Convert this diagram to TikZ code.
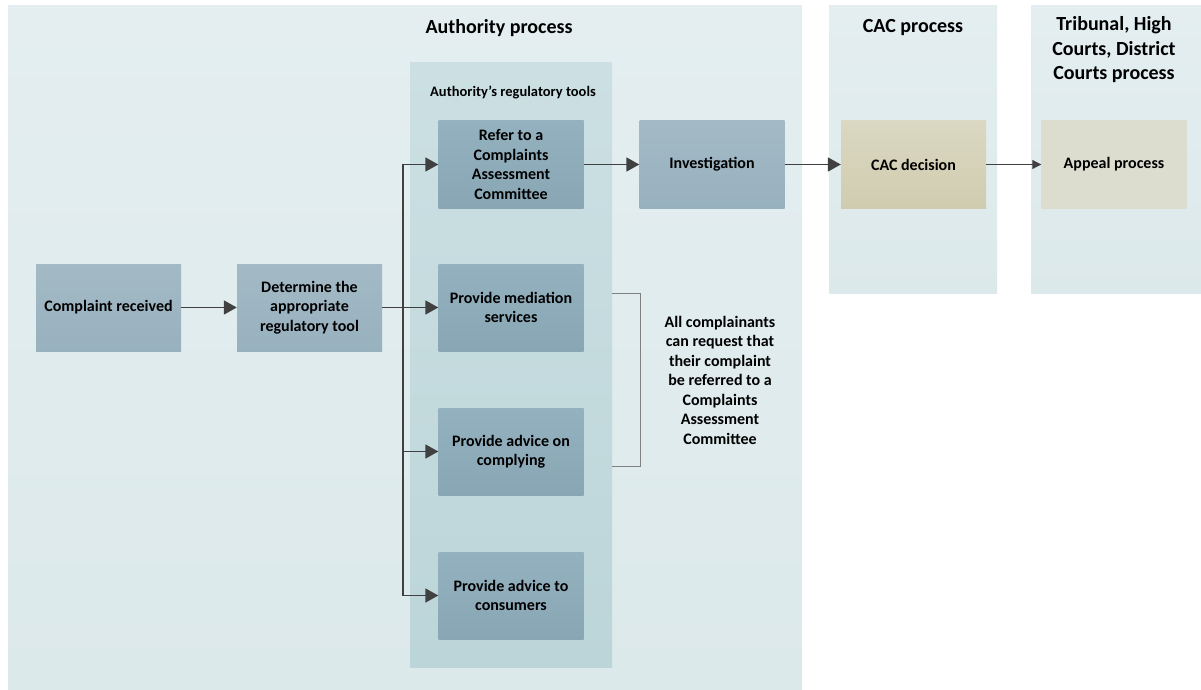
\documentclass[tikz,border=0pt]{standalone}
\usepackage{fontspec}
\setmainfont{Carlito}
\usetikzlibrary{arrows.meta, positioning}

\definecolor{panelTop}{HTML}{E4EEF0}
\definecolor{panelBot}{HTML}{DCE9EB}
\definecolor{toolsTop}{HTML}{CCE0E3}
\definecolor{toolsBot}{HTML}{BCD5D9}
\definecolor{boxTop}{HTML}{A3BAC6}
\definecolor{boxBot}{HTML}{98B1BE}
\definecolor{toolTop}{HTML}{94B1C0}
\definecolor{toolBot}{HTML}{88A6B3}
\definecolor{cacTop}{HTML}{DAD8C2}
\definecolor{cacBot}{HTML}{D0CCB0}
\definecolor{appealFill}{HTML}{DCDDCF}
\definecolor{arrowGray}{HTML}{404040}
\definecolor{bracketGray}{HTML}{808080}

\begin{document}
\begin{tikzpicture}[
    x=1pt, y=-1pt,
    panel/.style={rectangle, inner sep=0pt, top color=panelTop, bottom color=panelBot},
    toolpanel/.style={rectangle, inner sep=0pt, top color=toolsTop, bottom color=toolsBot},
    box/.style={rectangle, inner sep=2pt, minimum width=145pt, minimum height=87pt,
                text centered, align=center, top color=boxTop, bottom color=boxBot,
                font=\fontsize{16}{19.5}\selectfont\bfseries},
    toolbox/.style={box, top color=toolTop, bottom color=toolBot},
    titlestyle/.style={align=center, font=\fontsize{20}{24.5}\selectfont\bfseries},
    labelstyle/.style={font=\fontsize{14.5}{17}\selectfont\bfseries},
    notestyle/.style={align=center, font=\fontsize{16}{19.5}\selectfont\bfseries},
    arrow/.style={-{Triangle[length=13pt, width=14pt]}, line width=1.8pt, draw=arrowGray},
    thinarrow/.style={-{Triangle[length=9pt, width=9pt]}, line width=1pt, draw=arrowGray},
    branch/.style={line width=1.8pt, draw=arrowGray},
    bracket/.style={line width=1pt, draw=bracketGray}
]
\useasboundingbox (0,0) rectangle (1201,690);

% ==================== PANELS ====================
\node[panel, minimum width=794pt, minimum height=684pt] (authority) at (405, 348) {};
\node[titlestyle] at (499, 28) {Authority process};

\node[toolpanel, minimum width=202pt, minimum height=604pt] (tools) at (511, 365) {};
\node[labelstyle] at (513, 92) {Authority’s regulatory tools};

\node[panel, minimum width=168pt, minimum height=287pt] (cac-panel) at (913, 149.5) {};
\node[titlestyle] at (913, 28) {CAC process};

\node[panel, minimum width=170pt, minimum height=287pt] (courts-panel) at (1116, 149.5) {};
\node[titlestyle] at (1114, 50) {Tribunal, High\\Courts, District\\Courts process};

% ==================== BOXES ====================
\node[box] (received) at (108.5, 307.5) {Complaint received};
\node[box] (determine) at (309.5, 307.5) {Determine the\\appropriate\\regulatory tool};

\node[toolbox] (refer) at (511, 164.5) {Refer to a\\Complaints\\Assessment\\Committee};
\node[toolbox] (mediation) at (511, 307.5) {Provide mediation\\services};
\node[toolbox] (complying) at (511, 451.5) {Provide advice on\\complying};
\node[toolbox] (consumers) at (511, 595.5) {Provide advice to\\consumers};

\node[box] (investigation) at (712, 164.5) {Investigation};
\node[box, top color=cacTop, bottom color=cacBot] (cac-decision) at (913.5, 164.5) {CAC decision};
\node[box, top color=appealFill, bottom color=appealFill] (appeal) at (1114, 164.5) {Appeal process};

% ==================== NOTE ====================
\coordinate (bracket-top) at (612, 293);
\coordinate (bracket-bottom) at (612, 466);
\draw[bracket] (bracket-top) -- ++(28,0) |- (bracket-bottom);
\node[notestyle] (note) at (720, 380) {All complainants\\can request that\\their complaint\\be referred to a\\Complaints\\Assessment\\Committee};

% ==================== ARROWS ====================
\draw[arrow] (received) -- (determine);

\coordinate (split) at (403, 307.5);
\draw[branch] (determine.east) -- (split);
\draw[arrow] (split) |- (refer.west);
\draw[arrow] (split) -- (mediation.west);
\draw[arrow] (split) |- (complying.west);
\draw[arrow] (split) |- (consumers.west);

\draw[arrow] (refer) -- (investigation);
\draw[arrow] (investigation) -- (cac-decision);
\draw[thinarrow] (cac-decision) -- (appeal);

\end{tikzpicture}
\end{document}
